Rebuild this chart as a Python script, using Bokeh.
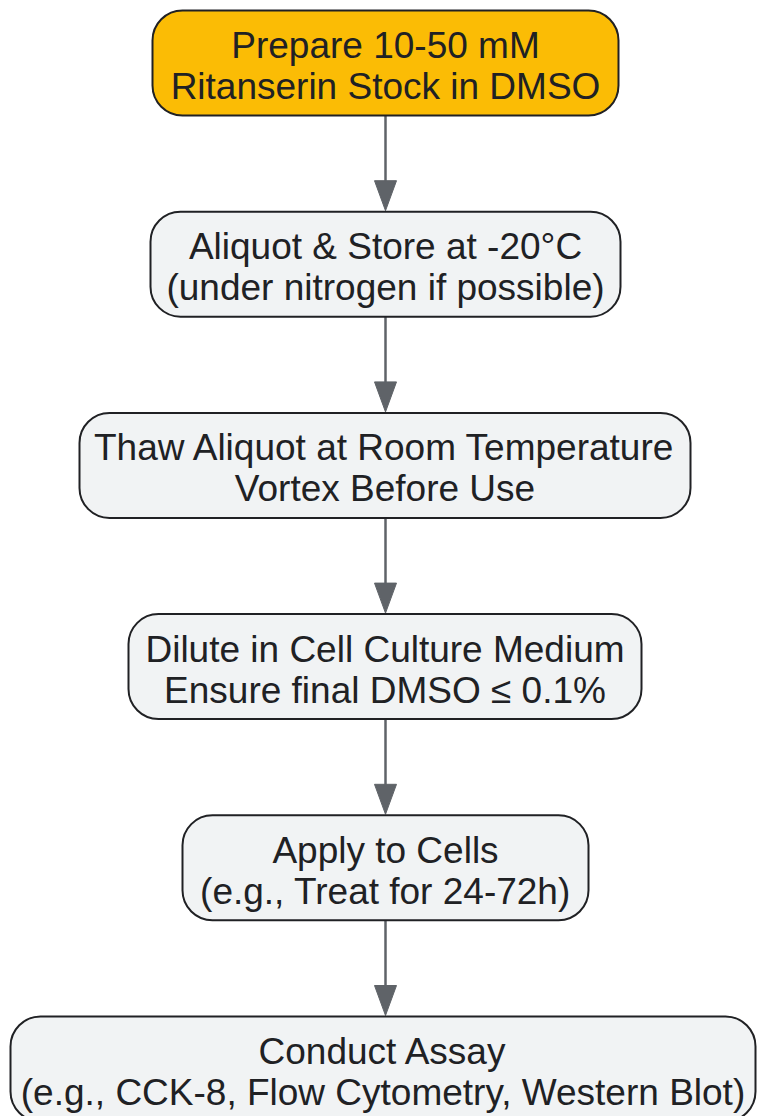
from bokeh.plotting import figure
from bokeh.models import Range1d, ColumnDataSource
from bokeh.core.properties import value
from bokeh.embed import file_html
from bokeh.resources import INLINE

# ---- content ----
steps = [
    ("Prepare 10-50 mM", "Ritanserin Stock in DMSO"),
    ("Aliquot & Store at -20°C", "(under nitrogen if possible)"),
    ("Thaw Aliquot at Room Temperature", "Vortex Before Use"),
    ("Dilute in Cell Culture Medium", "Ensure final DMSO \u2264 0.1%"),
    ("Apply to Cells", "(e.g., Treat for 24-72h)"),
    ("Conduct Assay", "(e.g., CCK-8, Flow Cytometry, Western Blot)"),
]
highlight = [True, False, False, False, False, False]

# ---- layout (pixels) ----
box_left = [152, 150, 79, 128, 182, 10]
box_right = [618, 620, 690, 641, 588, 755]
first_top = 10
row_step = 201.2
box_h = 105
radius = 30
line1_off = 35
line2_off = 76
arrow_x = 385
head_len = 31
head_half = 11

# ---- styles ----
HL_FILL = "#FBBC05"
FILL = "#F1F3F4"
EDGE = "#202124"
TEXT = "#202124"
ARROW = "#5F6368"
FONT = value("Liberation Sans")

W, H = 757, 1116
p = figure(width=W, height=H, output_backend="svg", toolbar_location=None,
           x_range=Range1d(0, W), y_range=Range1d(H, 0),
           min_border=0, outline_line_color=None)
p.axis.visible = False
p.grid.visible = False
p.background_fill_color = "white"
p.border_fill_color = "white"

n = len(steps)
tops = [first_top + i * row_step for i in range(n)]
bottoms = [t + box_h for t in tops]

# arrows
for i in range(n - 1):
    y0 = bottoms[i]
    y1 = tops[i + 1]
    p.segment(x0=[arrow_x], y0=[y0], x1=[arrow_x], y1=[y1 - head_len + 2],
              line_color=ARROW, line_width=2.5)
    p.patch(x=[arrow_x - head_half, arrow_x + head_half, arrow_x],
            y=[y1 - head_len, y1 - head_len, y1 - 1],
            fill_color=ARROW, line_color=ARROW, line_width=1)

# boxes
src = ColumnDataSource(dict(
    left=box_left, right=box_right, top=tops, bottom=bottoms,
    fill=[HL_FILL if h else FILL for h in highlight],
))
p.quad(left="left", right="right", top="top", bottom="bottom", source=src,
       fill_color="fill", line_color=EDGE, line_width=2, border_radius=radius)

# texts
cx = [(l + r) / 2 for l, r in zip(box_left, box_right)]
tx, ty, tt = [], [], []
for i, (a, b) in enumerate(steps):
    tx += [cx[i], cx[i]]
    ty += [tops[i] + line1_off, tops[i] + line2_off]
    tt += [a, b]
p.text(x=tx, y=ty, text=tt, text_align="center", text_baseline="alphabetic",
       text_font=FONT, text_font_size="37px", text_color=TEXT)

open("out.html", "w").write(file_html(p, INLINE))
